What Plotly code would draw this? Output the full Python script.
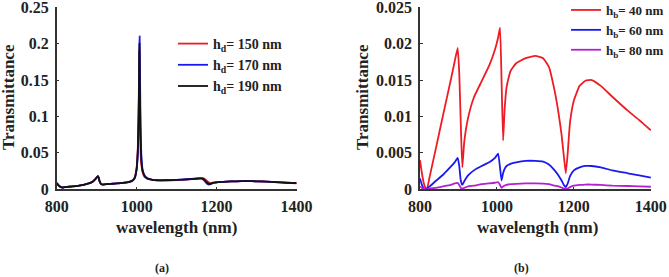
import plotly.graph_objects as go

# ---------------- Panel (a) data ----------------
wl_a = [800, 805, 810, 815, 820, 830, 840, 850, 860, 870, 880, 890,
        895, 900, 903, 905, 908, 912, 916, 920, 930, 940, 950, 960, 970, 980, 990, 995,
        1000, 1003, 1005, 1006, 1006.5, 1007, 1007.5, 1008, 1009, 1010, 1012, 1015, 1020, 1025, 1030,
        1040, 1050, 1075, 1100, 1125, 1150, 1160, 1165, 1170, 1175, 1180, 1185, 1190,
        1200, 1225, 1250, 1275, 1300, 1325, 1350, 1375, 1400]

t_hd150 = [0.009, 0.0055, 0.0032, 0.0026, 0.003, 0.0036, 0.0041, 0.0046, 0.0056, 0.0066, 0.0081, 0.0106,
           0.0132, 0.0162, 0.0178, 0.0158, 0.0098, 0.0071, 0.0066, 0.0069, 0.0073, 0.0077, 0.0081, 0.0086, 0.0092, 0.0101, 0.0125, 0.016,
           0.03, 0.058, 0.11, 0.16, 0.19, 0.175, 0.14, 0.11, 0.07, 0.05, 0.033, 0.023, 0.017, 0.015, 0.014,
           0.0128, 0.0123, 0.0122, 0.0126, 0.0134, 0.0145, 0.0152, 0.0152, 0.0145, 0.012, 0.0095, 0.0085, 0.009,
           0.0097, 0.0105, 0.011, 0.0112, 0.011, 0.0104, 0.0097, 0.0089, 0.0083]

t_hd170 = [0.008, 0.005, 0.003, 0.0025, 0.003, 0.0035, 0.004, 0.0045, 0.0055, 0.0065, 0.008, 0.0105,
           0.013, 0.016, 0.018, 0.016, 0.010, 0.007, 0.0065, 0.0068, 0.0072, 0.0076, 0.008, 0.0085, 0.009, 0.0098, 0.012, 0.015,
           0.027, 0.05, 0.095, 0.14, 0.175, 0.2, 0.21, 0.19, 0.13, 0.085, 0.045, 0.027, 0.019, 0.016, 0.0145,
           0.013, 0.0125, 0.0125, 0.013, 0.0138, 0.0148, 0.015, 0.0142, 0.0115, 0.0082, 0.0065, 0.007, 0.0085,
           0.0095, 0.0105, 0.011, 0.0112, 0.011, 0.0105, 0.0098, 0.009, 0.0085]

t_hd190 = [0.0085, 0.0052, 0.0031, 0.0025, 0.003, 0.0035, 0.004, 0.0045, 0.0055, 0.0065, 0.008, 0.0105,
           0.013, 0.0162, 0.018, 0.016, 0.0099, 0.007, 0.0065, 0.0068, 0.0072, 0.0076, 0.008, 0.0085, 0.0091, 0.0099, 0.0122, 0.0155,
           0.028, 0.053, 0.1, 0.15, 0.185, 0.2, 0.185, 0.15, 0.1, 0.068, 0.038, 0.025, 0.018, 0.0155, 0.0143,
           0.0129, 0.0124, 0.0124, 0.0128, 0.0136, 0.0146, 0.0151, 0.0147, 0.013, 0.01, 0.0078, 0.0076, 0.0087,
           0.0096, 0.0105, 0.011, 0.0112, 0.011, 0.0105, 0.0098, 0.009, 0.0084]

# ---------------- Panel (b) data ----------------
wl_b = [800, 805, 810, 815, 818, 825, 840, 860, 880, 890,
        898, 902, 906, 910, 915, 925, 940, 960, 980, 995,
        1003, 1008, 1012, 1016, 1020, 1025, 1035, 1050, 1075, 1100,
        1120, 1135, 1150, 1160, 1168, 1174, 1179, 1184, 1190, 1200,
        1215, 1230, 1246, 1270, 1300, 1340, 1370, 1400]

t_hb40 = [0.004, 0.0022, 0.0008, 0.0001, 0.0, 0.0017, 0.0053, 0.0102, 0.015, 0.0175,
          0.0194, 0.016, 0.009, 0.003, 0.0065, 0.0098, 0.0126, 0.0148, 0.017, 0.0192,
          0.0208, 0.0222, 0.015, 0.0067, 0.011, 0.014, 0.0162, 0.0173, 0.018, 0.0183,
          0.018, 0.0168, 0.0135, 0.0105, 0.0075, 0.0045, 0.0022, 0.005, 0.0092, 0.0122,
          0.0142, 0.0149, 0.015, 0.0142, 0.0127, 0.0108, 0.0095, 0.0081]

t_hb60 = [0.0015, 0.0006, 0.0001, 0.0, 0.0001, 0.0004, 0.0011, 0.002, 0.0031, 0.0037,
          0.0043, 0.0032, 0.0012, 0.0006, 0.0011, 0.0019, 0.0026, 0.0032, 0.0037, 0.0043,
          0.0049, 0.003, 0.0012, 0.0022, 0.0028, 0.0032, 0.0035, 0.0037, 0.0039, 0.0039,
          0.0038, 0.0034, 0.0026, 0.0019, 0.0012, 0.0006, 0.0003, 0.0008, 0.0018, 0.0026,
          0.003, 0.0032, 0.0032, 0.003, 0.0026, 0.0022, 0.0019, 0.0016]

t_hb80 = [0.0004, 0.0002, 0.0001, 0.0, 0.0, 0.0001, 0.0002, 0.0004, 0.0006, 0.0008,
          0.00088, 0.0006, 0.0002, 0.0001, 0.0002, 0.0004, 0.0005, 0.0007, 0.0008, 0.0009,
          0.001, 0.0006, 0.0002, 0.0004, 0.0005, 0.0006, 0.0007, 0.00075, 0.0008, 0.0008,
          0.00078, 0.0007, 0.0005, 0.0004, 0.00025, 0.0001, 0.00005, 0.0001, 0.0003, 0.0005,
          0.0006, 0.00065, 0.00065, 0.0006, 0.0005, 0.00045, 0.0004, 0.00035]

x_ticks = [800, 1000, 1200, 1400]
ya_ticks = [0, 0.05, 0.1, 0.15, 0.2, 0.25]
ya_text = ["0", "0.05", "0.1", "0.15", "0.2", "0.25"]
yb_ticks = [0, 0.005, 0.01, 0.015, 0.02, 0.025]
yb_text = ["0", "0.005", "0.01", "0.015", "0.02", "0.025"]

names_a = ["h<sub>d</sub>= 150 nm", "h<sub>d</sub>= 170 nm", "h<sub>d</sub>= 190 nm"]
names_b = ["h<sub>b</sub>= 40 nm", "h<sub>b</sub>= 60 nm", "h<sub>b</sub>= 80 nm"]

FONT = "Liberation Serif, Times New Roman, DejaVu Serif, serif"
TXT = "#222222"
RED, BLUE, BLACK, MAG = "#ee1c25", "#1a1aee", "#111111", "#b51fd0"

fig = go.Figure()
line_shape = dict(shape="spline", smoothing=0.4)

for y, n, c in [(t_hd150, names_a[0], RED), (t_hd170, names_a[1], BLUE), (t_hd190, names_a[2], BLACK)]:
    fig.add_trace(go.Scatter(x=wl_a, y=y, name=n, mode="lines",
                             line=dict(color=c, width=1.8, **line_shape),
                             xaxis="x", yaxis="y", legend="legend"))

for y, n, c in [(t_hb40, names_b[0], RED), (t_hb60, names_b[1], BLUE), (t_hb80, names_b[2], MAG)]:
    fig.add_trace(go.Scatter(x=wl_b, y=y, name=n, mode="lines",
                             line=dict(color=c, width=1.8, **line_shape),
                             xaxis="x2", yaxis="y2", legend="legend2"))

W, H = 669, 277
ydom = [1 - 189.3 / H, 1 - 7 / H]

tickfont = dict(family=FONT, size=16, color=TXT, weight="bold")
axis_common = dict(showline=True, linecolor="#333333", linewidth=1.5, ticks="inside",
                   ticklen=3, tickcolor="#333333", showgrid=False, zeroline=False,
                   tickfont=tickfont, ticklabeloverflow="allow", automargin=False)

fig.update_layout(
    width=W, height=H,
    margin=dict(l=0, r=0, t=0, b=0, autoexpand=False),
    paper_bgcolor="white", plot_bgcolor="white",
    font=dict(family=FONT, color=TXT),
    xaxis=dict(domain=[56.7 / W, 296.7 / W], range=[800, 1400.5], tickvals=x_ticks,
               anchor="y", ticklabelstandoff=2, **axis_common),
    yaxis=dict(domain=ydom, range=[0, 0.2502], tickvals=ya_ticks, ticktext=ya_text,
               anchor="x", ticklabelstandoff=3, **axis_common),
    xaxis2=dict(domain=[420 / W, 651 / W], range=[800, 1400.5], tickvals=x_ticks,
                anchor="y2", ticklabelstandoff=2, **axis_common),
    yaxis2=dict(domain=ydom, range=[0, 0.02502], tickvals=yb_ticks, ticktext=yb_text,
                anchor="x2", ticklabelstandoff=3, **axis_common),
    legend=dict(x=173 / W, y=1 - 28 / H, xanchor="left", yanchor="top",
                bgcolor="rgba(0,0,0,0)", font=dict(family=FONT, size=14, color=TXT, weight="bold"),
                tracegroupgap=0, itemwidth=30),
    legend2=dict(x=566 / W, y=1 + 5 / H, xanchor="left", yanchor="top",
                 bgcolor="rgba(0,0,0,0)", font=dict(family=FONT, size=13, color=TXT, weight="bold"),
                 tracegroupgap=0, itemwidth=30),
    showlegend=True,
)

ann_font = dict(family=FONT, size=17, color=TXT, weight="bold")
cap_font = dict(family=FONT, size=12, color=TXT, weight="bold")
annotations = [
    dict(text="Transmittance", x=8 / W, y=1 - 97 / H, textangle=-90, font=ann_font),
    dict(text="Transmittance", x=362 / W, y=1 - 97 / H, textangle=-90, font=ann_font),
    dict(text="wavelength (nm)", x=176 / W, y=1 - 227 / H, font=ann_font),
    dict(text="wavelength (nm)", x=537 / W, y=1 - 227 / H, font=ann_font),
    dict(text="(a)", x=162 / W, y=1 - 268 / H, font=cap_font),
    dict(text="(b)", x=521 / W, y=1 - 268 / H, font=cap_font),
]
for a in annotations:
    a.update(xref="paper", yref="paper", showarrow=False, xanchor="center", yanchor="middle")
fig.update_layout(annotations=annotations)

fig.write_html("out.html",
               config={"displayModeBar": False},
               post_script="document.body.style.margin='0';document.body.style.overflow='hidden';")
